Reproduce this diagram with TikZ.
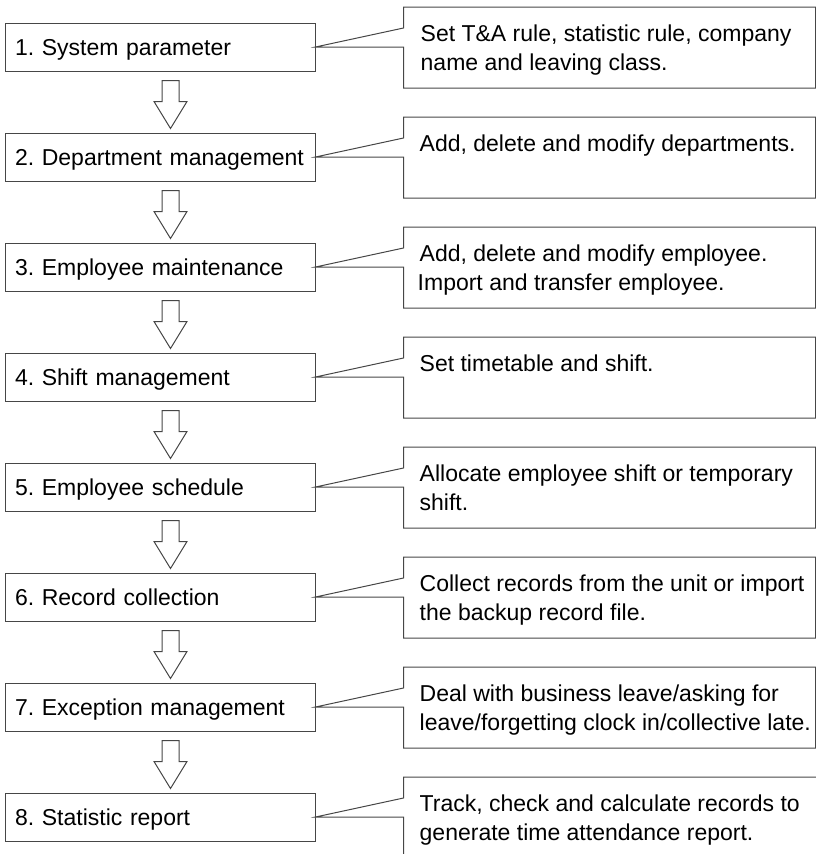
\documentclass[tikz,border=0pt]{standalone}
\usepackage{fontspec}
\setmainfont{Liberation Sans}
\usetikzlibrary{calc}
\definecolor{linegray}{RGB}{70,70,70}
\frenchspacing
\begin{document}
\begin{tikzpicture}[x=1pt,y=-1pt,
  stepbox/.style={draw=linegray, line width=1pt, minimum width=310pt, minimum height=48pt,
    inner xsep=10pt, inner ysep=0pt, text width=290pt, align=left, text height=16pt, text depth=0pt,
    font=\fontsize{23}{27}\selectfont\frenchspacing},
  ctext/.style={anchor=base west, inner sep=0pt, font=\fontsize{23}{27}\selectfont\frenchspacing},
  callout/.style={draw=linegray, line width=1pt},
  blockarrow/.style={draw=linegray, line width=1pt, fill=white}]
\useasboundingbox (0,0) rectangle (816,854);
\clip (0,0) rectangle (816,854);
% step boxes
\foreach \i/\t in {1/{1. System parameter},2/{2. Department management},3/{3. Employee maintenance},
  4/{4. Shift management},5/{5. Employee schedule},6/{6. Record collection},
  7/{7. Exception management},8/{8. Statistic report}}
  \node[stepbox] (b\i) at (160,{47+110*(\i-1)}) {\t};
% callout frames
\foreach \i in {1,...,7}
  \draw[callout] (b\i.east) -- ($(b\i.east)+(88,-19)$) -- ++(0,-21) -- ++(412,0) -- ++(0,81)
    -- ++(-412,0) -- ++(0,-41) -- cycle;
\draw[callout] (b8.east) -- ($(b8.east)+(88,-19)$) -- ++(0,-21) -- ++(430,0) -- ++(0,120)
    -- ++(-430,0) -- ++(0,-80) -- cycle;
% block arrows
\foreach \i in {1,...,7}
  \draw[blockarrow] ($(b\i.south)+(2,9)$) -- ++(17,0) -- ++(0,21) -- ++(8,0)
    -- ($(b\i.south)+(10.5,57)$) -- ($(b\i.south)+(-6,30)$) -- ++(8,0) -- cycle;
% callout texts
\node[ctext] (c1a) at ($(b1.east)+(105,-6)$) {Set T\&A rule, statistic rule, company};
\node[ctext] (c1b) at ($(b1.east)+(105,23)$) {name and leaving class.};
\node[ctext] (c2a) at ($(b2.east)+(104,-6)$) {Add, delete and modify departments.};
\node[ctext] (c3a) at ($(b3.east)+(104,-6)$) {Add, delete and modify employee.};
\node[ctext] (c3b) at ($(b3.east)+(102,23)$) {Import and transfer employee.};
\node[ctext] (c4a) at ($(b4.east)+(104,-6)$) {Set timetable and shift.};
\node[ctext] (c5a) at ($(b5.east)+(104,-6)$) {Allocate employee shift or temporary};
\node[ctext] (c5b) at ($(b5.east)+(104,23)$) {shift.};
\node[ctext] (c6a) at ($(b6.east)+(104,-6)$) {Collect records from the unit or import};
\node[ctext] (c6b) at ($(b6.east)+(104,23)$) {the backup record file.};
\node[ctext] (c7a) at ($(b7.east)+(104,-6)$) {Deal with business leave/asking for};
\node[ctext] (c7b) at ($(b7.east)+(104,23)$) {leave/forgetting clock in/collective late.};
\node[ctext] (c8a) at ($(b8.east)+(104,-6)$) {Track, check and calculate records to};
\node[ctext] (c8b) at ($(b8.east)+(104,23)$) {generate time attendance report.};
\end{tikzpicture}
\end{document}
